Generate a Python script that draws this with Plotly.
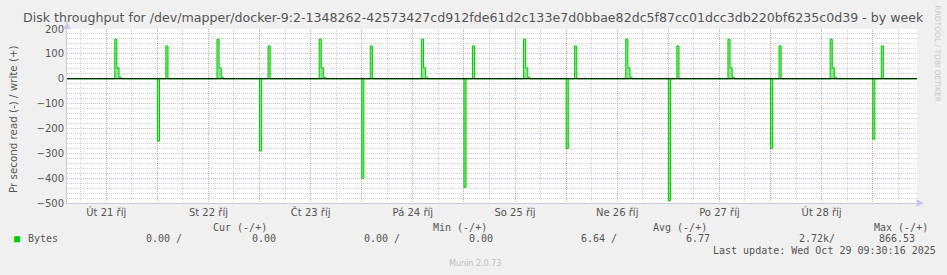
import pandas as pd
import plotly.graph_objects as go

# ---------------- data ----------------
# reads (shown negative) happen just after midnight
read_days = ['2025-10-22', '2025-10-23', '2025-10-24', '2025-10-25',
             '2025-10-26', '2025-10-27', '2025-10-28', '2025-10-29']
read_vals = [-251, -291, -401, -437, -281, -491, -281, -243]

# writes around 02:00
write_am_days = ['2025-10-22', '2025-10-23', '2025-10-24', '2025-10-25',
                 '2025-10-26', '2025-10-27', '2025-10-28', '2025-10-29']
write_am_vals = [132, 132, 132, 132, 132, 132, 132, 132]

# writes around 14:00 (three consecutive 30-minute samples)
write_pm_days = ['2025-10-21', '2025-10-22', '2025-10-23', '2025-10-24',
                 '2025-10-25', '2025-10-26', '2025-10-27', '2025-10-28']
write_pm_vals1 = [159, 159, 159, 159, 159, 159, 159, 159]
write_pm_vals2 = [44, 44, 44, 44, 44, 44, 44, 44]
write_pm_vals3 = [6, 6, 6, 6, 6, 6, 6, 6]

tick_days = ['2025-10-21', '2025-10-22', '2025-10-23', '2025-10-24',
             '2025-10-25', '2025-10-26', '2025-10-27', '2025-10-28']
tick_labels = ['Út 21 říj', 'St 22 říj', 'Čt 23 říj', 'Pá 24 říj',
               'So 25 říj', 'Ne 26 říj', 'Po 27 říj', 'Út 28 říj']

x_start = pd.Timestamp('2025-10-21 02:47')
x_end = pd.Timestamp('2025-10-29 10:24')

# ---------------- build 30-minute series ----------------
times = pd.date_range('2025-10-21 00:00', '2025-10-29 12:00', freq='30min')
read = pd.Series(0.0, index=times)
write = pd.Series(0.0, index=times)
for d, v in zip(read_days, read_vals):
    read[pd.Timestamp(d)] = v
for d, v in zip(write_am_days, write_am_vals):
    write[pd.Timestamp(d) + pd.Timedelta(hours=2)] = v
for d, a, b, c in zip(write_pm_days, write_pm_vals1, write_pm_vals2, write_pm_vals3):
    base = pd.Timestamp(d) + pd.Timedelta(hours=14)
    write[base] = a
    write[base + pd.Timedelta(minutes=30)] = b
    write[base + pd.Timedelta(minutes=60)] = c

# ---------------- layout geometry ----------------
W, H = 947, 275
PL, PR, PT, PB = 67, 917, 28.5, 203.5


def px(x):
    return (x - PL) / (PR - PL)


def py(y):
    return (PB - y) / (PB - PT)


GREEN = '#00cc00'
FILL = 'rgba(0,204,0,0.45)'
MINOR = 'rgba(150,150,150,0.45)'
MAJOR = 'rgba(220,120,120,0.5)'
AXIS = '#c8c8f0'
TXT = '#555555'

fig = go.Figure()
fig.add_trace(go.Scatter(x=times, y=read.values, mode='lines', line=dict(color=GREEN, width=1, shape='hv'),
                         fill='tozeroy', fillcolor=FILL, name='read', showlegend=False, hoverinfo='skip'))
fig.add_trace(go.Scatter(x=times, y=write.values, mode='lines', line=dict(color=GREEN, width=1, shape='hv'),
                         fill='tozeroy', fillcolor=FILL, name='Bytes', showlegend=False, hoverinfo='skip'))
# black zero rule drawn on top of the data (munin HRULE:0)
fig.add_trace(go.Scatter(x=[x_start, x_end], y=[0, 0], mode='lines', line=dict(color='#000000', width=1),
                         showlegend=False, hoverinfo='skip'))
# carrier trace for the midnight grid axis
fig.add_trace(go.Scatter(x=[x_start, x_end], y=[None, None], xaxis='x2', yaxis='y',
                         mode='lines', showlegend=False, hoverinfo='skip'))

noon_ticks = [pd.Timestamp(d) + pd.Timedelta(hours=12) for d in tick_days]

ann = []


def txt(s, x, y, anchor='left', size=10, color=TXT, family='DejaVu Sans Mono', angle=0):
    ann.append(dict(text=s, x=px(x), y=py(y), xref='paper', yref='paper', xanchor=anchor,
                    yanchor='middle', showarrow=False, borderpad=0, textangle=angle,
                    font=dict(family=family, size=size, color=color)))


txt('Disk throughput for /dev/mapper/docker-9:2-1348262-42573427cd912fde61d2c133e7d0bbae82dc5f87cc01dcc3db220bf6235c0d39 - by week',
    473, 17, anchor='center', size=12.6, family='DejaVu Sans', color='#555555')
txt('Pr second read (-) / write (+)', 13, 119, anchor='center', size=10.3, family='DejaVu Sans', angle=-90)
txt('RRDTOOL / TOBI OETIKER', 938, 53, anchor='center', size=7.5, family='DejaVu Sans', color='#c8c8c8', angle=90)

txt('Cur (-/+)', 211.7, 227.7)
txt('Min (-/+)', 431.7, 227.7)
txt('Avg (-/+)', 652.3, 227.7)
txt('Max (-/+)', 872.7, 227.7)
txt('■', 17, 239.7, anchor='center', size=10, color=GREEN)
txt('Bytes', 26.7, 239.7)
txt('0.00 /', 145, 239.7)
txt('0.00', 250.7, 239.7)
txt('0.00 /', 363.3, 239.7)
txt('0.00', 467.7, 239.7)
txt('6.64 /', 580, 239.7)
txt('6.77', 685, 239.7)
txt('2.72k/', 798.3, 239.7)
txt('866.53', 878.3, 239.7)
txt('Last update: Wed Oct 29 09:30:16 2025', 711.7, 251.7)
txt('Munin 2.0.73', 448, 264.3, size=8, family='DejaVu Sans', color='#c0c0c0')

# axis arrows (no text)
ann.append(dict(text='', x=px(924), y=py(203.5), xref='paper', yref='paper', ax=-6, ay=0,
                showarrow=True, arrowhead=2, arrowsize=1, arrowwidth=1.5, arrowcolor=AXIS))
ann.append(dict(text='', x=px(67), y=py(21), xref='paper', yref='paper', ax=0, ay=6,
                showarrow=True, arrowhead=2, arrowsize=1, arrowwidth=1.5, arrowcolor=AXIS))

fig.update_layout(
    width=W, height=H,
    margin=dict(l=PL, r=W - PR, t=PT, b=H - PB, autoexpand=False),
    paper_bgcolor='#f0f0f0', plot_bgcolor='#ffffff',
    showlegend=False,
    annotations=ann,
    xaxis=dict(type='date', range=[x_start, x_end], tickmode='array', tickvals=noon_ticks,
               ticktext=tick_labels, ticks='', showgrid=True, gridcolor=MINOR, griddash='1px,1px',
               gridwidth=1,
               minor=dict(tickmode='linear', tick0='2025-10-21 00:00', dtick=6 * 3600 * 1000,
                          showgrid=True, gridcolor=MINOR, griddash='1px,1px', gridwidth=1),
               showline=True, linecolor=AXIS, linewidth=1, zeroline=False, fixedrange=True,
               tickfont=dict(family='DejaVu Sans', size=10, color=TXT), automargin=False),
    xaxis2=dict(type='date', range=[x_start, x_end], overlaying='x', anchor='y', side='bottom',
                tickmode='linear', tick0='2025-10-22 00:00', dtick=86400000, showticklabels=False,
                ticks='', showgrid=True, gridcolor=MAJOR, griddash='1px,1px', gridwidth=1,
                showline=False, zeroline=False, fixedrange=True),
    yaxis=dict(range=[-500, 200], tickmode='linear', tick0=0, dtick=100, ticks='',
               showgrid=True, gridcolor=MAJOR, griddash='1px,1px', gridwidth=1,
               minor=dict(tickmode='linear', tick0=0, dtick=20, showgrid=True, gridcolor=MINOR,
                          griddash='1px,1px', gridwidth=1),
               zeroline=False,
               showline=True, linecolor=AXIS, linewidth=1, fixedrange=True,
               tickfont=dict(family='DejaVu Sans', size=10, color=TXT), automargin=False),
)

fig.write_html('out.html')
